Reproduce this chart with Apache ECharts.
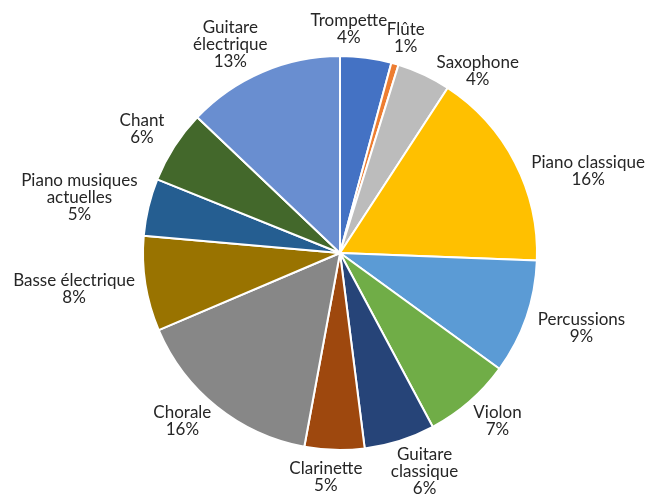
<!DOCTYPE html>
<html><head><meta charset="utf-8">
<script src="https://cdn.jsdelivr.net/npm/echarts@6/dist/echarts.min.js"></script>
<style>html,body{margin:0;padding:0;background:#fff;}#c{width:646px;height:494px;}</style>
</head><body><div id="c"></div>
<script>
const categories = ['Trompette','Flûte','Saxophone','Piano classique','Percussions','Violon','Guitare classique','Clarinette','Chorale','Basse électrique','Piano musiques actuelles','Chant','Guitare électrique'];
const labelNames = ['Trompette','Flûte','Saxophone','Piano classique','Percussions','Violon','Guitare\nclassique','Clarinette','Chorale','Basse électrique','Piano musiques\nactuelles','Chant','Guitare\nélectrique'];
const values = [4.2,0.6,4.4,16.4,9.4,7.2,5.8,4.9,15.7,7.8,4.7,6.0,12.9];
const colors = ['#4472C4','#ED7D31','#BCBCBC','#FFC000','#5B9BD5','#70AD47','#264478','#9E480E','#878787','#997300','#255E91','#43682B','#698ED0'];

// label placement style (angle nudge in degrees, mimicking the spreadsheet's label spreading)
const labelNudge = [-5.3, 0.8, 11.9, 9.1, -1.9, -2.1, -3.5, 2.0, 4.5, 1.2, -1.4, -0.8, -4.5];
const CX = 340, CY = 253, R = 197, GAP = 10;
const total = values.reduce((a,b)=>a+b,0);
const mids = [];
let acc = 0;
values.forEach(v => { mids.push((acc + v/2)/total * 2*Math.PI); acc += v; });

const chart = echarts.init(document.getElementById('c'), null, {renderer:'canvas'});
chart.setOption({
  animation:false,
  series:[{
    type:'pie',
    center:[CX, CY],
    radius:[0, R],
    startAngle:90,
    clockwise:true,
    percentPrecision:0,
    data: categories.map((n,i)=>({name:n, value:values[i], itemStyle:{color:colors[i]}})),
    itemStyle:{borderColor:'#fff', borderWidth:2},
    label:{
      show:true, position:'outside', overflow:'none',
      formatter: p => labelNames[p.dataIndex] + '\n' + p.percent + '%',
      fontFamily:'Lato', fontSize:17, color:'#262626', lineHeight:17, align:'center'
    },
    labelLine:{show:false},
    labelLayout: function(p){
      const a = mids[p.dataIndex] + labelNudge[p.dataIndex]*Math.PI/180;
      const ux = Math.sin(a), uy = -Math.cos(a);
      const w = p.labelRect.width, h = p.labelRect.height;
      const tx = Math.abs(ux) > 1e-6 ? (w/2)/Math.abs(ux) : Infinity;
      const ty = Math.abs(uy) > 1e-6 ? (h/2)/Math.abs(uy) : Infinity;
      const d = R + GAP + Math.min(tx, ty);
      return {x: CX + d*ux, y: CY + d*uy, align:'center', verticalAlign:'middle'};
    }
  }]
});
</script></body></html>
